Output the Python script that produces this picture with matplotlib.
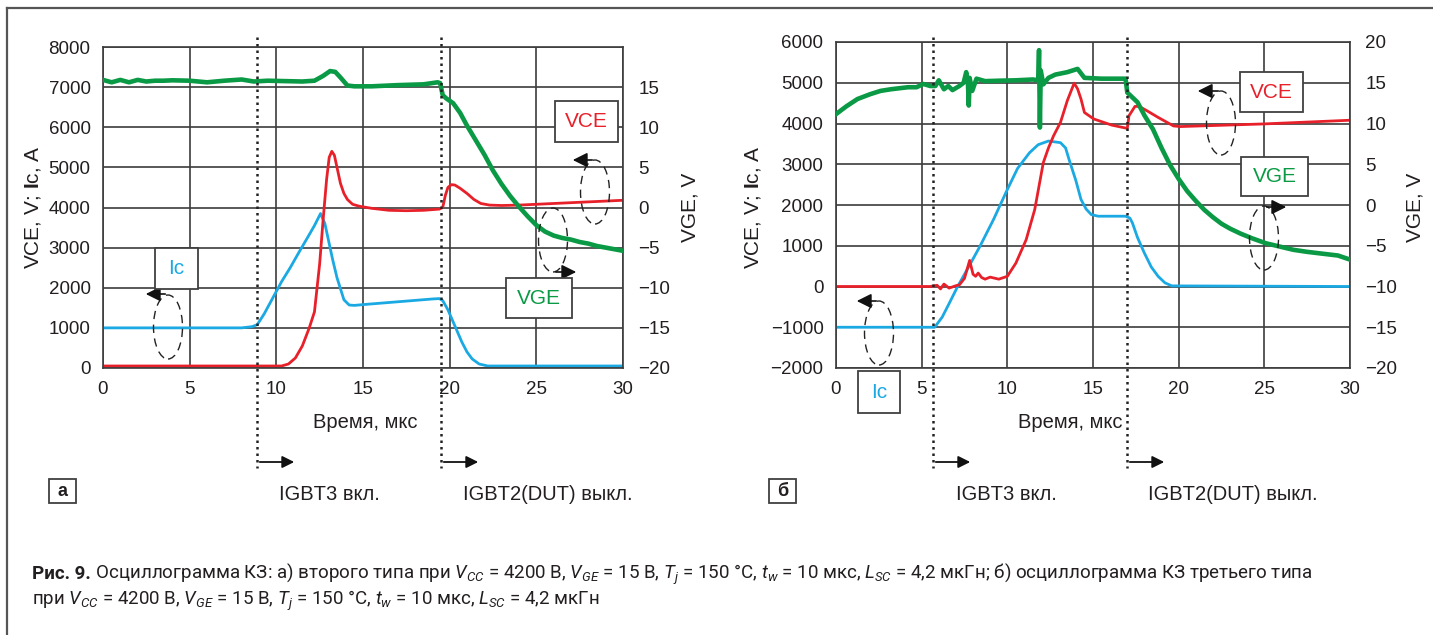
import matplotlib
matplotlib.use("Agg")
import matplotlib.pyplot as plt
from matplotlib.lines import Line2D
from matplotlib.patches import Ellipse, Rectangle, FancyArrowPatch

plt.rcParams['font.family'] = ['Liberation Sans', 'DejaVu Sans']
plt.rcParams['mathtext.fontset'] = 'custom'
plt.rcParams['mathtext.rm'] = 'Roboto'
plt.rcParams['mathtext.it'] = 'Roboto:italic'
plt.rcParams['mathtext.bf'] = 'Liberation Sans:bold'

# ---- panel a (время, мкс; VCE, Ic in V/A; VGE in V) ----
t_a_vge = [0, 0.5, 1, 1.5, 2, 2.5, 3, 3.5, 4, 5, 6, 7, 8, 8.7, 9.5, 10.5, 11.5, 12.2,
           12.7, 13.1, 13.4, 13.7, 14.1, 14.5, 15.5, 17, 18.5, 19.3, 19.45, 19.6, 19.8,
           20.2, 20.6, 21.0, 21.5, 22.0, 22.5, 23.0, 23.5, 24.0, 24.5, 25.0, 25.5, 26.0,
           26.5, 27.0, 27.5, 28.0, 28.5, 29.0, 29.5, 30]
vge_a = [15.9, 15.6, 15.9, 15.6, 15.9, 15.7, 15.8, 15.8, 15.85, 15.8, 15.6, 15.8, 15.95,
         15.7, 15.8, 15.75, 15.7, 15.8, 16.4, 17.0, 16.9, 16.2, 15.2, 15.1, 15.1, 15.25,
         15.35, 15.6, 15.5, 14.0, 13.6, 13.0, 11.8, 10.2, 8.4, 6.6, 4.6, 2.9, 1.4, 0.1,
         -1.1, -2.2, -3.0, -3.5, -3.8, -4.0, -4.3, -4.5, -4.8, -5.0, -5.2, -5.4]

t_a_ic = [0, 8.0, 8.6, 8.9, 9.3, 9.8, 10.3, 10.8, 11.3, 11.8, 12.2, 12.55, 12.8, 13.0,
          13.25, 13.5, 13.9, 14.2, 14.5, 15, 17, 19, 19.4, 19.6, 19.9, 20.3, 20.7, 21.0,
          21.3, 21.7, 22.2, 30]
ic_a = [1000, 1000, 1030, 1080, 1350, 1750, 2150, 2500, 2880, 3250, 3550, 3850, 3600,
        3200, 2700, 2250, 1700, 1570, 1560, 1580, 1650, 1720, 1730, 1680, 1450, 1050,
        650, 400, 225, 100, 50, 50]

t_a_vce = [0, 10.3, 10.7, 11.1, 11.5, 11.9, 12.2, 12.5, 12.7, 12.9, 13.05, 13.2, 13.35,
           13.5, 13.7, 13.9, 14.1, 14.4, 14.8, 15.5, 16.5, 17.5, 18.5, 19.4, 19.6, 19.75,
           19.9, 20.1, 20.3, 20.6, 21.0, 21.4, 21.8, 22.3, 23.0, 24, 26, 28, 30]
vce_a = [50, 50, 100, 250, 550, 1000, 1400, 2600, 3700, 4700, 5250, 5400, 5300, 5000,
         4600, 4350, 4200, 4080, 4030, 3980, 3930, 3920, 3930, 3960, 4000, 4300, 4500,
         4570, 4560, 4480, 4350, 4200, 4100, 4060, 4050, 4060, 4100, 4140, 4180]

# ---- panel b ----
t_b_vge = [0, 0.6, 1.25, 2.0, 2.6, 3.2, 3.6, 4.2, 4.7, 5.1, 5.5, 5.8, 6.0, 6.3, 6.55,
           6.8, 7.2, 7.45, 7.6, 7.7, 7.75, 7.8, 7.95, 8.2, 8.7, 9.5, 10.5, 11.5, 11.8,
           11.85, 11.9, 11.95, 12.1, 12.4, 12.8, 13.5, 14.1, 14.5, 15.5, 16.9, 17.0, 17.3,
           17.6, 18.0, 18.5, 19.0, 19.5, 20.0, 20.5, 21.0, 21.5, 22.0, 22.5, 23.0, 23.6,
           24.3, 25.1, 25.9, 26.7, 27.5, 28.3, 29.3, 30]
vge_b = [11.15, 12.1, 13.0, 13.6, 14.0, 14.2, 14.3, 14.45, 14.45, 14.85, 14.6, 14.6, 15.3,
         14.2, 14.6, 14.1, 14.6, 15.0, 16.3, 15.0, 12.2, 15.6, 14.0, 15.5, 15.2, 15.25,
         15.3, 15.4, 15.3, 19.0, 9.5, 16.5, 14.8, 15.6, 16.0, 16.3, 16.7, 15.6, 15.5,
         15.5, 13.8, 13.2, 12.6, 11.0, 9.3, 7.0, 4.9, 3.2, 1.7, 0.5, -0.6, -1.5, -2.3,
         -2.9, -3.5, -4.1, -4.7, -5.1, -5.5, -5.75, -5.95, -6.2, -6.7]

t_b_ic = [0, 5.76, 6.2, 6.6, 7.1, 7.7, 8.4, 9.2, 10.0, 10.6, 11.3, 11.8, 12.4, 13.1, 13.4,
          13.6, 14.0, 14.3, 14.6, 14.9, 15.3, 16.9, 17.15, 17.3, 17.6, 18.0, 18.4, 18.8,
          19.2, 19.6, 30]
ic_b = [-1000, -1000, -750, -420, 0, 450, 985, 1650, 2380, 2900, 3285, 3480, 3570, 3530,
        3400, 3120, 2600, 2135, 1900, 1765, 1725, 1725, 1680, 1560, 1200, 820, 480, 250,
        90, 15, 0]

t_b_vce = [0, 5.5, 5.9, 6.1, 6.3, 6.6, 7.0, 7.2, 7.5, 7.8, 8.0, 8.15, 8.3, 8.5, 8.7, 9.0,
           9.5, 10.0, 10.5, 11.1, 11.6, 12.1, 12.4, 12.7, 13.1, 13.5, 13.9, 14.1, 14.3,
           14.5, 15.05, 16.1, 17.0, 17.1, 17.45, 17.7, 18.2, 18.8, 19.7, 20.1, 25, 30]
vce_b = [0, 0, 30, -60, 60, -40, 20, 40, 200, 640, 300, 250, 330, 220, 180, 230, 180, 250,
         575, 1150, 1890, 3040, 3400, 3700, 4025, 4560, 4990, 4850, 4600, 4270, 4110, 3960,
         3880, 4190, 4420, 4420, 4300, 4150, 3940, 3925, 3990, 4080]

ticks_t = [0, 5, 10, 15, 20, 25, 30]

W, H = 1433, 635
C_VCE = '#e8202a'
C_IC = '#1aa9e3'
C_VGE = '#0a9a45'
GRID = '#3c3c3c'
DARK = '#231f20'

fig = plt.figure(figsize=(W / 100, H / 100), dpi=100)


def fx(x):
    return x / W


def fy(y):
    return 1 - y / H


def panel(box, vlim, vticks, gticks, t_vce, vce, t_ic, ic, t_vge, vge):
    l, t, r, b = box
    ax = fig.add_axes([fx(l), fy(b), fx(r) - fx(l), fy(t) - fy(b)])
    ax.plot(t_ic, ic, color=C_IC, lw=2.0, solid_joinstyle='round')
    ax.plot(t_vce, vce, color=C_VCE, lw=2.0, solid_joinstyle='round')
    ax.set_xlim(0, 30)
    ax.set_ylim(*vlim)
    ax.set_xticks(ticks_t)
    ax.set_yticks(vticks)
    ax.grid(True, color=GRID, lw=1.2)
    for s in ax.spines.values():
        s.set_color(GRID)
        s.set_linewidth(1.2)
    ax.tick_params(length=0, labelsize=13.5, colors=DARK, pad=9)
    ax2 = ax.twinx()
    ax2.plot(t_vge, vge, color=C_VGE, lw=3.3, solid_joinstyle='round')
    ax2.set_ylim(-20, 20)
    ax2.set_yticks(gticks)
    ax2.set_yticklabels([str(g).replace('-', '\u2212') for g in gticks])
    ax2.tick_params(length=0, labelsize=13.5, colors=DARK, pad=11)
    for s in ax2.spines.values():
        s.set_visible(False)
    ax.set_yticklabels([str(v).replace('-', '\u2212') for v in vticks])
    return ax, ax2


panel((103, 47, 623, 368), (0, 8000), list(range(0, 8001, 1000)), list(range(-20, 16, 5)),
      t_a_vce, vce_a, t_a_ic, ic_a, t_a_vge, vge_a)
panel((836, 42, 1350, 368), (-2000, 6000), list(range(-2000, 6001, 1000)),
      list(range(-20, 21, 5)), t_b_vce, vce_b, t_b_ic, ic_b, t_b_vge, vge_b)

# axis titles
ylab = r'VCE, V; $\mathbf{I}$c, A'
for x in (33, 753):
    fig.text(fx(x), fy(207), ylab, rotation=90, ha='center', va='center', fontsize=15, color=DARK)
for x in (690, 1415):
    fig.text(fx(x), fy(207), 'VGE, V', rotation=90, ha='center', va='center', fontsize=15, color=DARK)
for x in (365, 1070):
    fig.text(fx(x), fy(422), 'Время, мкс', ha='center', va='center', fontsize=14.5, color=DARK)

# switching markers
for x in (257, 441, 933, 1127):
    fig.add_artist(Line2D([fx(x), fx(x)], [fy(37), fy(468)], transform=fig.transFigure,
                          ls=(0, (1, 1.6)), lw=1.8, color='#222222'))
    fig.add_artist(FancyArrowPatch((fx(x), fy(462)), (fx(x + 40), fy(462)),
                                   transform=fig.transFigure, arrowstyle='-|>',
                                   mutation_scale=18, lw=1.3, color='#111111'))
for x, s in ((279, 'IGBT3 вкл.'), (463, 'IGBT2(DUT) выкл.'),
             (956, 'IGBT3 вкл.'), (1148, 'IGBT2(DUT) выкл.')):
    fig.text(fx(x), fy(494), s, ha='left', va='center', fontsize=14.5, color=DARK)


def box(l, t, r, b, s, color, size=15, weight='normal'):
    fig.add_artist(Rectangle((fx(l), fy(b)), (r - l) / W, (b - t) / H, transform=fig.transFigure,
                             fc='white', ec='#404040', lw=1.3, zorder=5))
    fig.text(fx((l + r) / 2), fy((t + b) / 2), s, ha='center', va='center', fontsize=size,
             color=color, weight=weight, zorder=6)


box(155, 248, 198, 289, 'Ic', C_IC)
box(555, 101, 618, 142, 'VCE', C_VCE)
box(506, 278, 572, 318, 'VGE', C_VGE)
box(1240, 72, 1303, 112, 'VCE', C_VCE)
box(1241, 157, 1308, 196, 'VGE', C_VGE)
box(858, 371, 900, 413, 'Ic', C_IC)
box(49, 479, 76, 503, 'а', DARK, size=13, weight='bold')
box(769, 479, 796, 503, 'б', DARK, size=13, weight='bold')

# dashed ellipses with direction arrows
ellipses = [(168, 327, 294, 143), (595, 192, 160, 570), (553, 240, 272, 579),
            (879, 333, 301, 854), (1221, 123, 91, 1195), (1264, 238, 207, 1289)]
for cx, cy, ay, ax_end in ellipses:
    fig.add_artist(Ellipse((fx(cx), fy(cy)), 29 / W, 64 / H, transform=fig.transFigure,
                           fill=False, ls=(0, (6, 4)), lw=1.0, ec='#222222', zorder=4))
    fig.add_artist(FancyArrowPatch((fx(cx), fy(ay)), (fx(ax_end), fy(ay)),
                                   transform=fig.transFigure, arrowstyle='-|>',
                                   mutation_scale=22, lw=1.2, color='#111111', zorder=4))

# outer frame
fig.add_artist(Line2D([fx(7), 1], [fy(8), fy(8)], transform=fig.transFigure, color='#555555', lw=1.6))
fig.add_artist(Line2D([fx(7), fx(7)], [fy(8), 0], transform=fig.transFigure, color='#555555', lw=1.6))

# caption
cap_font = ['Liberation Sans Narrow', 'Roboto']
rest1 = (r' Осциллограмма КЗ: а) второго типа при $V_{CC}$ = 4200 В, $V_{GE}$ = 15 В, '
         r'$T_j$ = 150 °C, $t_w$ = 10 мкс, $L_{SC}$ = 4,2 мкГн; б) осциллограмма КЗ третьего типа')
line2 = (r'при $V_{CC}$ = 4200 В, $V_{GE}$ = 15 В, $T_j$ = 150 °C, $t_w$ = 10 мкс, '
         r'$L_{SC}$ = 4,2 мкГн')
t0 = fig.text(fx(32), fy(574), 'Рис. 9.', ha='left', va='center', fontsize=13.5,
              weight='bold', family=cap_font, color=DARK)
fig.canvas.draw()
bb = t0.get_window_extent()
fig.text(bb.x1 / W, fy(574), rest1, ha='left', va='center', fontsize=13.5, family=cap_font, color=DARK)
fig.text(fx(32), fy(601), line2, ha='left', va='center', fontsize=13.5, family=cap_font, color=DARK)

fig.savefig('out.png', dpi=100, facecolor='white')
